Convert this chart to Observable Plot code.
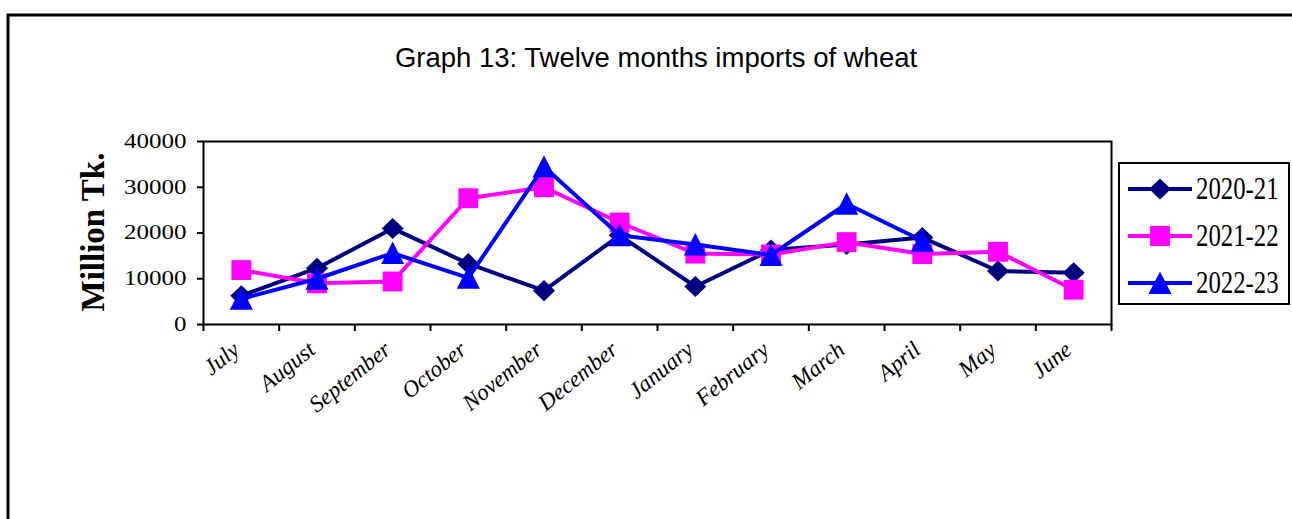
<!DOCTYPE html>
<html>
<head>
<meta charset="utf-8">
<script src="https://cdn.jsdelivr.net/npm/d3@7"></script>
<script src="https://cdn.jsdelivr.net/npm/@observablehq/plot@0.6"></script>
<style>
  html, body { margin: 0; padding: 0; background: white; }
</style>
</head>
<body>
<div id="chart"></div>
<script>
// ---- data ----
const months = ["July","August","September","October","November","December","January","February","March","April","May","June"];
const seriesNames = ["2020-21","2021-22","2022-23"];
const values2020 = [6300, 12300, 21000, 13300, 7400, 19500, 8300, 16300, 17500, 19000, 11700, 11300];
const values2021 = [11900, 9000, 9400, 27600, 30000, 22300, 15500, 15300, 18000, 15400, 15900, 7600];
const values2022 = [5600, 10000, 15600, 10200, 34500, 19500, 17500, 15200, 26400, 18300, null, null];
const yTicks = [0, 10000, 20000, 30000, 40000];
const titleText = "Graph 13: Twelve months imports of wheat";
const yLabel = "Million Tk.";

// ---- styles ----
const colors = ["#000080", "#FF00FF", "#0000FF"];
const serif = "'Liberation Serif', 'Times New Roman', Times, serif";
const sans = "'Liberation Sans', Arial, Helvetica, sans-serif";

// custom Excel-like marker symbols
const diamondSym = { draw(ctx, size) { const h = Math.sqrt(size / 2); ctx.moveTo(0, -h); ctx.lineTo(h * 1.05, 0); ctx.lineTo(0, h); ctx.lineTo(-h * 1.05, 0); ctx.closePath(); } };
const squareSym = { draw(ctx, size) { const s = Math.sqrt(size) / 2; ctx.moveTo(-s, -s); ctx.lineTo(s, -s); ctx.lineTo(s, s); ctx.lineTo(-s, s); ctx.closePath(); } };
const triangleSym = { draw(ctx, size) { const w = Math.sqrt(2 * size) / 2; ctx.moveTo(0, -w); ctx.lineTo(w, w * 0.95); ctx.lineTo(-w, w * 0.95); ctx.closePath(); } };
const symbols = [diamondSym, squareSym, triangleSym];
const markerR = [8.4, 11.2, 9.2];

const allValues = [values2020, values2021, values2022];
const tables = allValues.map((vals, s) =>
  vals.map((v, i) => ({ series: seriesNames[s], i, month: months[i], value: v })).filter(d => d.value != null)
);

const seriesMarks = tables.flatMap((t, s) => [
  Plot.line(t, { x: d => d.i + 0.5, y: "value", stroke: colors[s], strokeWidth: 4, strokeLinejoin: "miter" }),
  Plot.dot(t, { x: d => d.i + 0.5, y: "value", fill: colors[s], stroke: "none", symbol: symbols[s], r: markerR[s] })
]);

const W = 1292, H = 519;
const chart = Plot.plot({
  width: W, height: H,
  marginLeft: 203, marginRight: 181, marginTop: 141, marginBottom: 195,
  style: { fontFamily: serif, fontSize: "20px", color: "black", background: "white", overflow: "visible" },
  x: { domain: [0, months.length], axis: null },
  y: { domain: [0, 40000], axis: null },
  marks: [
    Plot.axisY({ ticks: yTicks, tickSize: 6, tickPadding: 11, tickFormat: d3.format("d"), label: null,
      strokeWidth: 2, fill: "black", fontSize: 20, fontFamily: serif }),
    Plot.axisX({ ticks: d3.range(months.length + 1), tickSize: 7, tickFormat: () => "", label: null, strokeWidth: 2 }),
    Plot.axisX({ ticks: months.map((m, i) => i + 0.5), tickSize: 0, tickPadding: 22, tickRotate: -39, dx: -5,
      tickFormat: d => months[Math.floor(d)], label: null, fontStyle: "italic", fill: "black", fontSize: 23,
      fontFamily: serif }),
    ...seriesMarks,
    Plot.frame({ stroke: "black", strokeWidth: 2 })
  ]
});

const svg = d3.select(chart);

// horizontally widen the y tick labels as in the reference
function stretch(node, sx, sy) {
  const t = node.getAttribute("transform") || "";
  if (/rotate\(/.test(t)) {
    node.setAttribute("transform", t.replace("rotate(", `scale(${sx},${sy}) rotate(`));
  } else {
    const x = +node.getAttribute("x") || 0, y = +node.getAttribute("y") || 0;
    node.setAttribute("transform", `${t} translate(${x},${y}) scale(${sx},${sy}) translate(${-x},${-y})`);
  }
}
const yTickLabels = new Set(yTicks.map(d => String(d)));
chart.querySelectorAll("text").forEach(node => {
  if (yTickLabels.has(node.textContent.trim())) stretch(node, 1.25, 1);
});

// outer border (top and left visible; extends past right/bottom)
svg.append("rect").attr("x", 8).attr("y", 15).attr("width", W + 20).attr("height", H + 20)
  .attr("fill", "none").attr("stroke", "black").attr("stroke-width", 3);

// title
svg.append("text").attr("x", 656).attr("y", 67).attr("text-anchor", "middle")
  .style("font-family", sans).style("font-size", "27.5px").attr("fill", "black").text(titleText);

// y axis label
svg.append("text").attr("transform", "translate(93,232) rotate(-90)").attr("text-anchor", "middle")
  .attr("dominant-baseline", "central").style("font-family", serif).style("font-size", "33px")
  .style("font-weight", "bold").attr("fill", "black").text(yLabel);

// legend
const lg = svg.append("g");
lg.append("rect").attr("x", 1119).attr("y", 163).attr("width", 170).attr("height", 141)
  .attr("fill", "white").attr("stroke", "black").attr("stroke-width", 2);
seriesNames.forEach((name, s) => {
  const cy = 189 + s * 47;
  lg.append("line").attr("x1", 1128).attr("x2", 1192).attr("y1", cy).attr("y2", cy)
    .attr("stroke", colors[s]).attr("stroke-width", 4);
  lg.append("path").attr("transform", `translate(1160,${cy})`)
    .attr("d", d3.symbol().type(symbols[s]).size(Math.PI * markerR[s] * markerR[s])())
    .attr("fill", colors[s]);
  lg.append("text").attr("transform", `translate(1196,${cy}) scale(0.8,1)`).attr("dominant-baseline", "central")
    .attr("text-anchor", "start")
    .style("font-family", serif).style("font-size", "31px").attr("fill", "black").text(name);
});

document.getElementById("chart").appendChild(chart);
</script>
</body>
</html>
